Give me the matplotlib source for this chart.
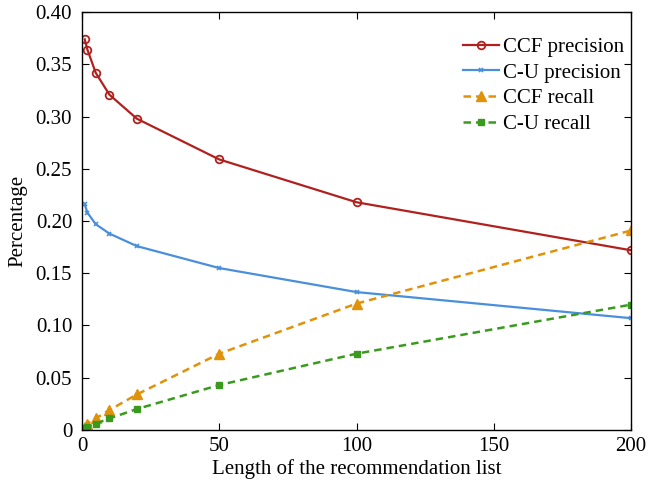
import numpy as np
import matplotlib
matplotlib.use('Agg')
import matplotlib.pyplot as plt

plt.rcParams['font.family'] = ['Liberation Serif', 'DejaVu Serif']

# list lengths
x = [1, 2, 5, 10, 20, 50, 100, 200]

ccf_precision = [0.374, 0.364, 0.342, 0.321, 0.298, 0.259, 0.218, 0.172]
cu_precision = [0.216, 0.208, 0.197, 0.188, 0.176, 0.155, 0.132, 0.107]
ccf_recall = [0.003, 0.006, 0.011, 0.019, 0.034, 0.073, 0.121, 0.191]
cu_recall = [0.002, 0.003, 0.006, 0.011, 0.020, 0.043, 0.073, 0.120]

yticks = [0, 0.05, 0.10, 0.15, 0.20, 0.25, 0.30, 0.35, 0.40]
ytick_labels = ['0', '0.05', '0.10', '0.15', '0.20', '0.25', '0.30', '0.35', '0.40']
xticks = [0, 50, 100, 150, 200]

fig = plt.figure(figsize=(6.48, 4.88), dpi=100)
ax = fig.add_axes([0.1265, 0.119, 0.8475, 0.856])

ax.plot(x, ccf_precision, '-o', color='#B0211E', lw=1.6, ms=5.5,
        mfc='none', mew=1.3, label='CCF precision')
ax.plot(x, cu_precision, '-x', color='#4A8FDB', lw=1.6, ms=3,
        mew=1.2, label='C-U precision')
ax.plot(x, ccf_recall, '--^', color='#E0920A', lw=1.8, ms=7,
        dashes=(3, 2), label='CCF recall')
ax.plot(x, cu_recall, '--s', color='#3A9A1E', lw=1.8, ms=5,
        dashes=(3, 2), label='C-U recall')

ax.set_xlim(0, 200)
ax.set_ylim(0, 0.40)
ax.set_xticks(xticks)
ax.set_yticks(yticks)
ax.set_yticklabels(ytick_labels)
ax.tick_params(direction='in', top=True, right=True, labelsize=15, length=5, pad=7)
ax.tick_params(axis='x', pad=5)
for s in ax.spines.values():
    s.set_linewidth(1.0)

ax.set_xlabel('Length of the recommendation list', fontsize=15, labelpad=2)
ax.set_ylabel('Percentage', fontsize=15, labelpad=6)

ax.legend(loc='upper right', bbox_to_anchor=(1.01, 0.97), frameon=False,
          fontsize=15, handlelength=1.7, handletextpad=0.2,
          labelspacing=0.3, borderaxespad=0.3, borderpad=0.3)

fig.savefig('out.png', dpi=100)
